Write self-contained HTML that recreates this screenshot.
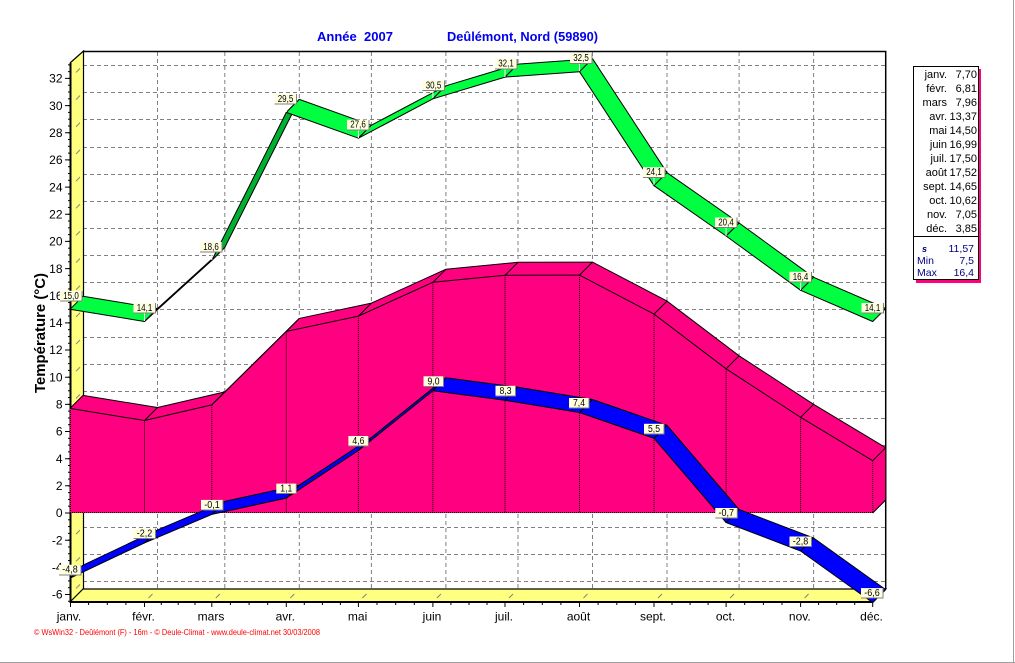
<!DOCTYPE html>
<html><head><meta charset="utf-8"><style>
html,body{margin:0;padding:0;background:#fff;}
svg{display:block;font-family:"Liberation Sans",Arial,sans-serif;}
</style></head><body>
<svg width="1015" height="663" viewBox="0 0 1015 663" xmlns="http://www.w3.org/2000/svg">
<defs>
<pattern id="ymin" patternUnits="userSpaceOnUse" x="68" y="512.5" width="2" height="6.79"><rect x="0" y="0" width="2" height="1" fill="#000"/></pattern>
<pattern id="wsl" patternUnits="userSpaceOnUse" x="70" y="513" width="13" height="27.16"><line x1="6" y1="21.16" x2="10" y2="17.16" stroke="#808080" stroke-width="1"/></pattern>
</defs>
<rect width="1015" height="663" fill="#fff"/>
<line x1="1013.5" y1="0" x2="1013.5" y2="663" stroke="#a0a0a0"/>
<line x1="0" y1="662.5" x2="1015" y2="662.5" stroke="#a0a0a0"/>

<!-- back grid -->
<g stroke="#808080" stroke-width="1" stroke-dasharray="4,3" fill="none">
<path d="M83 65.5H886M83 92.5H886M83 119.5H886M83 147.5H886M83 174.5H886M83 201.5H886M83 228.5H886M83 255.5H886M83 282.5H886M83 309.5H886M83 337.5H886M83 364.5H886M83 391.5H886M83 418.5H886M83 445.5H886M83 472.5H886M83 500.5H886M83 527.5H886M83 554.5H886M83 581.5H886"/>
<path d="M157.5 52V589M224.8 52V589M299.3 52V589M371.4 52V589M445.9 52V589M518 52V589M592.5 52V589M667 52V589M739.1 52V589M813.6 52V589"/>
</g>
<path d="M83 51.5H885.7V589" fill="none" stroke="#000" stroke-width="1.5"/>

<!-- wall and floor -->
<polygon points="70,63 83,51 83,589 70,602" fill="#ffff80"/>
<polygon points="70,602 83,589 885.7,589 872.7,602" fill="#ffff80"/>
<rect x="70" y="64" width="13" height="538" fill="url(#wsl)"/>
<g stroke="#808080" stroke-width="1">
<path d="M148.5 598L152.5 594M215.8 598L219.8 594M290.3 598L294.3 594M362.4 598L366.4 594M436.9 598L440.9 594M509 598L513 594M583.5 598L587.5 594M658 598L662 594M730.1 598L734.1 594M804.6 598L808.6 594M876.7 598L880.7 594"/>
</g>
<path d="M70 63L83.5 51V589M70 602L83 589H885.7L872.7 602" fill="none" stroke="#000" stroke-width="1.2"/>

<!-- axes -->
<line x1="70.5" y1="63" x2="70.5" y2="603" stroke="#000" stroke-width="2"/>
<line x1="70" y1="602" x2="873" y2="602" stroke="#000" stroke-width="2"/>
<rect x="68" y="64" width="2" height="538" fill="url(#ymin)"/>
<g stroke="#000" stroke-width="1">
<path d="M65 78.4H70M65 105.6H70M65 132.8H70M65 159.9H70M65 187.1H70M65 214.2H70M65 241.4H70M65 268.6H70M65 295.7H70M65 322.9H70M65 350H70M65 377.2H70M65 404.4H70M65 431.5H70M65 458.7H70M65 485.8H70M65 513H70M65 540.2H70M65 567.3H70M65 594.5H70"/>
<path d="M70.5 602V607M144.5 602V607M211.8 602V607M286.3 602V607M358.4 602V607M432.9 602V607M505 602V607M579.5 602V607M654 602V607M726.1 602V607M800.6 602V607M872.7 602V607"/>
<path d="M88.6 602V605M107.3 602V605M125.9 602V605M161.3 602V605M178.2 602V605M195 602V605M230.4 602V605M249.1 602V605M267.7 602V605M304.3 602V605M322.4 602V605M340.4 602V605M377 602V605M395.7 602V605M414.3 602V605M450.9 602V605M469 602V605M487 602V605M523.6 602V605M542.3 602V605M560.9 602V605M598.1 602V605M616.8 602V605M635.4 602V605M672 602V605M690.1 602V605M708.1 602V605M744.7 602V605M763.4 602V605M782 602V605M818.6 602V605M836.7 602V605M854.7 602V605"/>
</g>

<!-- y labels -->
<g font-size="12" text-anchor="end" fill="#000">
<text x="62.5" y="82.6">32</text><text x="62.5" y="109.8">30</text><text x="62.5" y="137">28</text><text x="62.5" y="164.1">26</text><text x="62.5" y="191.3">24</text><text x="62.5" y="218.4">22</text><text x="62.5" y="245.6">20</text><text x="62.5" y="272.8">18</text><text x="62.5" y="299.9">16</text><text x="62.5" y="327.1">14</text><text x="62.5" y="354.2">12</text><text x="62.5" y="381.4">10</text><text x="62.5" y="408.6">8</text><text x="62.5" y="435.7">6</text><text x="62.5" y="462.9">4</text><text x="62.5" y="490">2</text><text x="62.5" y="517.2">0</text><text x="62.5" y="544.4">-2</text><text x="62.5" y="571.5">-4</text><text x="62.5" y="598.7">-6</text>
</g>
<!-- x labels -->
<g font-size="12" text-anchor="middle" fill="#000">
<text x="69" y="620.5">janv.</text><text x="143.5" y="620.5">févr.</text><text x="211" y="620.5">mars</text><text x="285.3" y="620.5">avr.</text><text x="357.6" y="620.5">mai</text><text x="432" y="620.5">juin</text><text x="504" y="620.5">juil.</text><text x="578.5" y="620.5">août</text><text x="653" y="620.5">sept.</text><text x="725.5" y="620.5">oct.</text><text x="799.8" y="620.5">nov.</text><text x="871.5" y="620.5">déc.</text>
</g>

<!-- pink mean -->
<g fill="#ff0080">
<polygon points="70,513 70,408.4 144.5,420.5 211.8,404.9 286.3,331.4 358.4,316.1 432.9,282.3 505,275.3 579.5,275.1 654,314.1 726.1,368.8 800.6,417.3 872.7,460.7 872.7,513"/>
<polygon points="70,408.4 144.5,420.5 211.8,404.9 286.3,331.4 358.4,316.1 432.9,282.3 505,275.3 579.5,275.1 654,314.1 726.1,368.8 800.6,417.3 872.7,460.7 885.7,447.7 813.6,404.3 739.1,355.8 667,301.1 592.5,262.1 518,262.3 445.9,269.3 371.4,303.1 299.3,318.4 224.8,391.9 157.5,407.5 83,395.4"/>
<polygon points="872.7,460.7 885.7,447.7 885.7,500 872.7,513"/>
</g>
<g fill="none" stroke="#000" stroke-width="1">
<polyline points="70,408.4 144.5,420.5 211.8,404.9 286.3,331.4 358.4,316.1 432.9,282.3 505,275.3 579.5,275.1 654,314.1 726.1,368.8 800.6,417.3 872.7,460.7"/>
<polyline points="83,395.4 157.5,407.5 224.8,391.9 299.3,318.4 371.4,303.1 445.9,269.3 518,262.3 592.5,262.1 667,301.1 739.1,355.8 813.6,404.3 885.7,447.7 885.7,500 872.7,513"/>
<path d="M70 408.4L83 395.4M144.5 420.5L157.5 407.5M211.8 404.9L224.8 391.9M286.3 331.4L299.3 318.4M358.4 316.1L371.4 303.1M432.9 282.3L445.9 269.3M505 275.3L518 262.3M579.5 275.1L592.5 262.1M654 314.1L667 301.1M726.1 368.8L739.1 355.8M800.6 417.3L813.6 404.3M872.7 460.7L885.7 447.7"/>
</g>
<g fill="none" stroke="#000" stroke-width="1" stroke-dasharray="1,1">
<path d="M70.5 408V513M144.5 420.5V513M211.8 404.9V513M286.3 331.4V513M358.4 316.1V513M432.9 282.3V513M505 275.3V513M579.5 275.1V513M654 314.1V513M726.1 368.8V513M800.6 417.3V513M872.7 460.7V513M70 512.5H873"/>
</g>

<!-- green max -->
<g stroke="#000" stroke-width="1" stroke-linejoin="round">
<polygon fill="#00ff40" points="70,309.3 144.5,321.5 157.5,308.5 83,296.3"/>
<polygon fill="#00ff40" points="144.5,321.5 211.8,260.4 224.8,247.4 157.5,308.5"/>
<polygon fill="#00b030" points="211.8,260.4 286.3,112.4 299.3,99.4 224.8,247.4"/>
<polygon fill="#00ff40" points="286.3,112.4 358.4,138.2 371.4,125.2 299.3,99.4"/>
<polygon fill="#00ff40" points="358.4,138.2 432.9,98.8 445.9,85.8 371.4,125.2"/>
<polygon fill="#00ff40" points="432.9,98.8 505,77.1 518,64.1 445.9,85.8"/>
<polygon fill="#00ff40" points="505,77.1 579.5,71.7 592.5,58.7 518,64.1"/>
<polygon fill="#00ff40" points="579.5,71.7 654,185.7 667,172.7 592.5,58.7"/>
<polygon fill="#00ff40" points="654,185.7 726.1,236 739.1,223 667,172.7"/>
<polygon fill="#00ff40" points="726.1,236 800.6,290.3 813.6,277.3 739.1,223"/>
<polygon fill="#00ff40" points="800.6,290.3 872.7,321.5 885.7,308.5 813.6,277.3"/>
</g>

<!-- blue min -->
<g stroke="#000" stroke-width="1" stroke-linejoin="round" fill="#0000ff">
<polygon points="70,578.2 144.5,542.9 157.5,529.9 83,565.2"/>
<polygon points="144.5,542.9 211.8,514.4 224.8,501.4 157.5,529.9"/>
<polygon points="211.8,514.4 286.3,498.1 299.3,485.1 224.8,501.4"/>
<polygon points="286.3,498.1 358.4,450.5 371.4,437.5 299.3,485.1"/>
<polygon points="358.4,450.5 432.9,390.8 445.9,377.8 371.4,437.5"/>
<polygon points="432.9,390.8 505,400.3 518,387.3 445.9,377.8"/>
<polygon points="505,400.3 579.5,412.5 592.5,399.5 518,387.3"/>
<polygon points="579.5,412.5 654,438.3 667,425.3 592.5,399.5"/>
<polygon points="654,438.3 726.1,522.5 739.1,509.5 667,425.3"/>
<polygon points="726.1,522.5 800.6,551 813.6,538 739.1,509.5"/>
<polygon points="800.6,551 872.7,602.6 885.7,589.6 813.6,538"/>
</g>

<!-- label ticks -->
<g stroke="#fff" stroke-width="1">
<path d="M144.5 313V321M211.8 252V260M286.3 104V112M358.4 130V138M432.9 90V98M505 69V77M579.5 63V71M654 177V185M726.1 228V236M800.6 282V290"/>
</g>

<!-- value labels -->
<g font-size="10" fill="#000" text-anchor="middle">
<!-- green -->
<rect x="60" y="290.8" width="22" height="10" fill="#ffffe0"/><path d="M82 291V301H60" fill="none" stroke="#808080"/><text x="71" y="298.8" textLength="15.5" lengthAdjust="spacingAndGlyphs">15,0</text>
<rect x="133.5" y="303" width="22" height="10" fill="#ffffe0"/><path d="M155.5 303V313H133.5" fill="none" stroke="#808080"/><text x="144.5" y="311" textLength="15.5" lengthAdjust="spacingAndGlyphs">14,1</text>
<rect x="200" y="241.9" width="22" height="10" fill="#ffffe0"/><path d="M222 242V252H200" fill="none" stroke="#808080"/><text x="211" y="249.9" textLength="15.5" lengthAdjust="spacingAndGlyphs">18,6</text>
<rect x="274.5" y="93.9" width="22" height="10" fill="#ffffe0"/><path d="M296.5 94V104H274.5" fill="none" stroke="#808080"/><text x="285.5" y="101.9" textLength="15.5" lengthAdjust="spacingAndGlyphs">29,5</text>
<rect x="347" y="119.7" width="22" height="10" fill="#ffffe0"/><path d="M369 120V130H347" fill="none" stroke="#808080"/><text x="358" y="127.7" textLength="15.5" lengthAdjust="spacingAndGlyphs">27,6</text>
<rect x="422.5" y="80.3" width="22" height="10" fill="#ffffe0"/><path d="M444.5 80.5V90.5H422.5" fill="none" stroke="#808080"/><text x="433.5" y="88.3" textLength="15.5" lengthAdjust="spacingAndGlyphs">30,5</text>
<rect x="495" y="58.6" width="22" height="10" fill="#ffffe0"/><path d="M517 59V69H495" fill="none" stroke="#808080"/><text x="506" y="66.6" textLength="15.5" lengthAdjust="spacingAndGlyphs">32,1</text>
<rect x="570" y="53.2" width="22" height="10" fill="#ffffe0"/><path d="M592 53.5V63.5H570" fill="none" stroke="#808080"/><text x="581" y="61.2" textLength="15.5" lengthAdjust="spacingAndGlyphs">32,5</text>
<rect x="643" y="167.2" width="22" height="10" fill="#ffffe0"/><path d="M665 167.5V177.5H643" fill="none" stroke="#808080"/><text x="654" y="175.2" textLength="15.5" lengthAdjust="spacingAndGlyphs">24,1</text>
<rect x="715" y="217.5" width="22" height="10" fill="#ffffe0"/><path d="M737 217.5V227.5H715" fill="none" stroke="#808080"/><text x="726" y="225.5" textLength="15.5" lengthAdjust="spacingAndGlyphs">20,4</text>
<rect x="789.5" y="271.8" width="22" height="10" fill="#ffffe0"/><path d="M811.5 272V282H789.5" fill="none" stroke="#808080"/><text x="800.5" y="279.8" textLength="15.5" lengthAdjust="spacingAndGlyphs">16,4</text>
<rect x="861.5" y="303" width="22" height="10" fill="#ffffe0"/><path d="M883.5 303V313H861.5" fill="none" stroke="#808080"/><text x="872.5" y="311" textLength="15.5" lengthAdjust="spacingAndGlyphs">14,1</text>
<!-- blue -->
<rect x="59" y="564.7" width="22" height="10" fill="#ffffe0"/><path d="M81 565V575H59" fill="none" stroke="#808080"/><text x="70" y="572.7" textLength="15.5" lengthAdjust="spacingAndGlyphs">-4,8</text>
<rect x="133.5" y="528.4" width="22" height="10" fill="#ffffe0"/><path d="M155.5 528.5V538.5H133.5" fill="none" stroke="#808080"/><text x="144.5" y="536.4" textLength="15.5" lengthAdjust="spacingAndGlyphs">-2,2</text>
<rect x="201" y="499.9" width="22" height="10" fill="#ffffe0"/><path d="M223 500V510H201" fill="none" stroke="#808080"/><text x="212" y="507.9" textLength="15.5" lengthAdjust="spacingAndGlyphs">-0,1</text>
<rect x="276.3" y="483.6" width="20" height="10" fill="#ffffe0"/><path d="M296.3 483.5V493.5H276.3" fill="none" stroke="#808080"/><text x="286.3" y="491.6" textLength="12" lengthAdjust="spacingAndGlyphs">1,1</text>
<rect x="348.4" y="436" width="20" height="10" fill="#ffffe0"/><path d="M368.4 436V446H348.4" fill="none" stroke="#808080"/><text x="358.4" y="444" textLength="12" lengthAdjust="spacingAndGlyphs">4,6</text>
<rect x="423.5" y="376.3" width="20" height="10" fill="#ffffe0"/><path d="M443.5 376.5V386.5H423.5" fill="none" stroke="#808080"/><text x="433.5" y="384.3" textLength="12" lengthAdjust="spacingAndGlyphs">9,0</text>
<rect x="495.5" y="385.8" width="20" height="10" fill="#ffffe0"/><path d="M515.5 386V396H495.5" fill="none" stroke="#808080"/><text x="505.5" y="393.8" textLength="12" lengthAdjust="spacingAndGlyphs">8,3</text>
<rect x="569" y="398" width="20" height="10" fill="#ffffe0"/><path d="M589 398V408H569" fill="none" stroke="#808080"/><text x="579" y="406" textLength="12" lengthAdjust="spacingAndGlyphs">7,4</text>
<rect x="644" y="423.8" width="20" height="10" fill="#ffffe0"/><path d="M664 424V434H644" fill="none" stroke="#808080"/><text x="654" y="431.8" textLength="12" lengthAdjust="spacingAndGlyphs">5,5</text>
<rect x="715.3" y="508" width="22" height="10" fill="#ffffe0"/><path d="M737.3 508V518H715.3" fill="none" stroke="#808080"/><text x="726.3" y="516" textLength="15.5" lengthAdjust="spacingAndGlyphs">-0,7</text>
<rect x="789.5" y="536.5" width="22" height="10" fill="#ffffe0"/><path d="M811.5 536.5V546.5H789.5" fill="none" stroke="#808080"/><text x="800.5" y="544.5" textLength="15.5" lengthAdjust="spacingAndGlyphs">-2,8</text>
<rect x="861" y="588.1" width="22" height="10" fill="#ffffe0"/><path d="M883 588V598H861" fill="none" stroke="#808080"/><text x="872" y="596.1" textLength="15.5" lengthAdjust="spacingAndGlyphs">-6,6</text>
</g>

<!-- axis title -->
<text transform="translate(45,333) rotate(-90)" font-size="15" font-weight="bold" text-anchor="middle" textLength="120" lengthAdjust="spacingAndGlyphs">Température  (°C)</text>

<!-- title -->
<g font-size="13" font-weight="bold" fill="#0000ee">
<text x="317" y="41" textLength="76" lengthAdjust="spacingAndGlyphs" xml:space="preserve">Année  2007</text>
<text x="447" y="41" textLength="151" lengthAdjust="spacingAndGlyphs">Deûlémont, Nord (59890)</text>
</g>

<!-- legend -->
<rect x="916" y="69" width="65" height="214" fill="#ff0080"/>
<rect x="913.5" y="66.5" width="65" height="213" fill="#fff" stroke="#000" stroke-width="1"/>
<line x1="913.5" y1="236.5" x2="978.5" y2="236.5" stroke="#000"/>
<g font-size="11" fill="#000" text-anchor="end">
<text x="947" y="78">janv.</text><text x="977" y="78">7,70</text>
<text x="947" y="92">févr.</text><text x="977" y="92">6,81</text>
<text x="947" y="106">mars</text><text x="977" y="106">7,96</text>
<text x="947" y="120">avr.</text><text x="977" y="120">13,37</text>
<text x="947" y="134">mai</text><text x="977" y="134">14,50</text>
<text x="947" y="148">juin</text><text x="977" y="148">16,99</text>
<text x="947" y="162">juil.</text><text x="977" y="162">17,50</text>
<text x="947" y="176">août</text><text x="977" y="176">17,52</text>
<text x="947" y="190">sept.</text><text x="977" y="190">14,65</text>
<text x="947" y="204">oct.</text><text x="977" y="204">10,62</text>
<text x="947" y="218">nov.</text><text x="977" y="218">7,05</text>
<text x="947" y="232">déc.</text><text x="977" y="232">3,85</text>
</g>
<g font-size="10.5" fill="#000080">
<text x="922" y="252" font-style="italic" font-weight="bold" font-size="9">s</text>
<text x="917" y="264">Min</text>
<text x="917" y="276">Max</text>
<text x="974" y="252" text-anchor="end">11,57</text>
<text x="974" y="264" text-anchor="end">7,5</text>
<text x="974" y="276" text-anchor="end">16,4</text>
</g>

<!-- footer -->
<text x="34" y="635" font-size="8" fill="#ff0000" textLength="286" lengthAdjust="spacingAndGlyphs">© WsWin32 - Deûlémont (F) - 16m - © Deule-Climat - www.deule-climat.net  30/03/2008</text>
</svg>
</body></html>
